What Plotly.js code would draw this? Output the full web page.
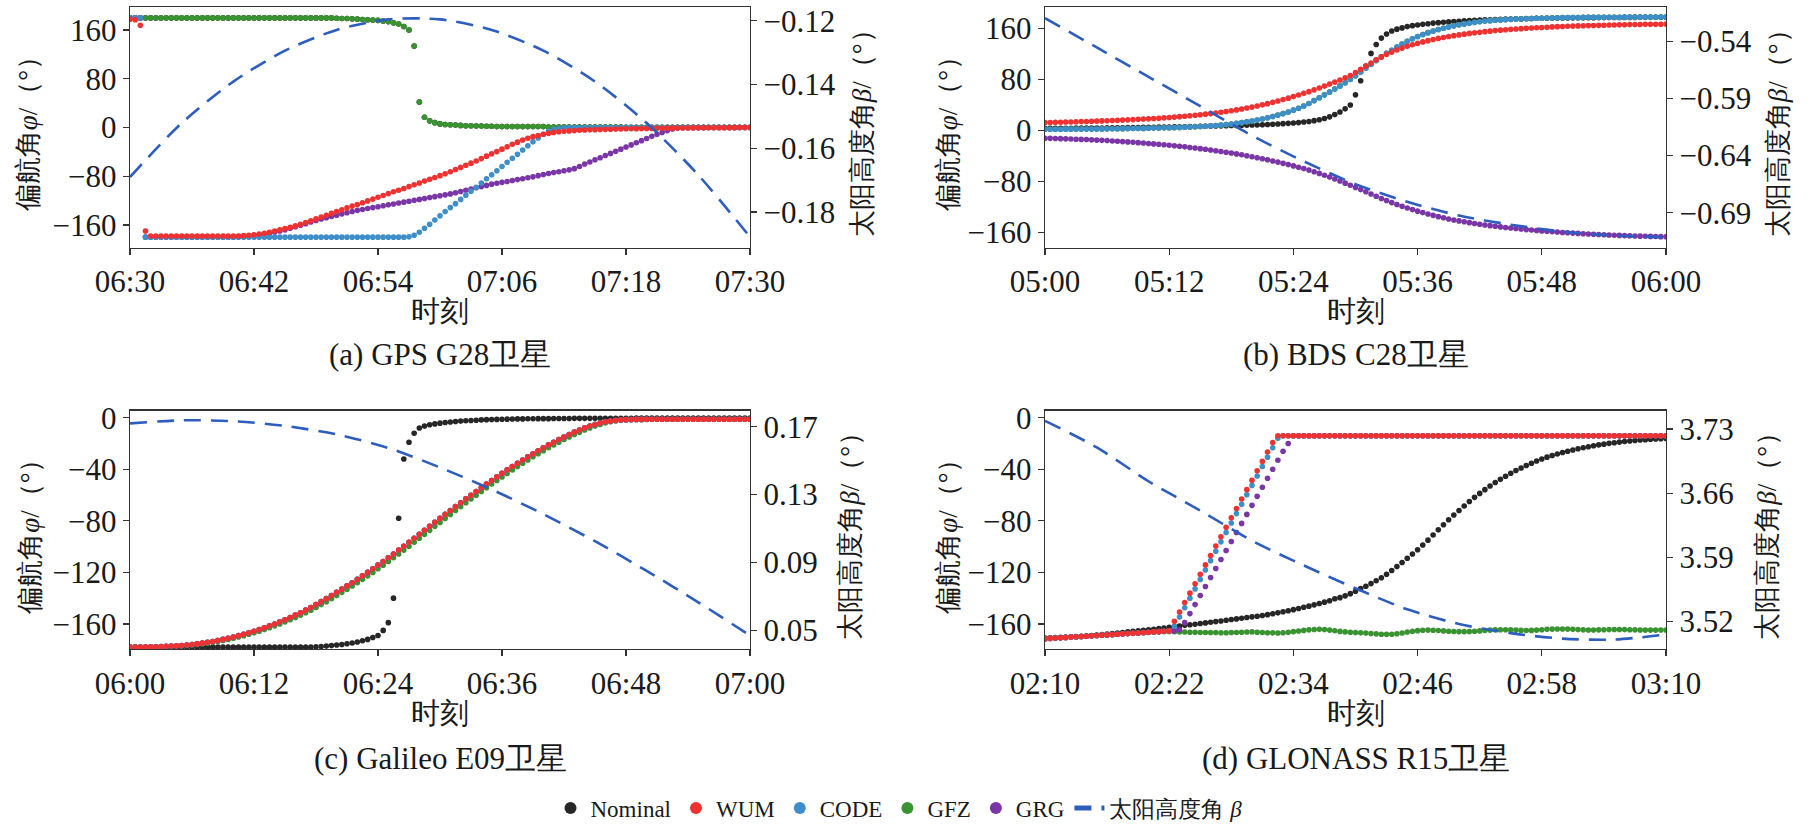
<!DOCTYPE html>
<html>
<head>
<meta charset="utf-8">
<script src="https://cdn.plot.ly/plotly-3.0.1.min.js"></script>
<style>
  html, body { margin: 0; padding: 0; background: #fff; }
  #chart { width: 1810px; height: 830px; }
</style>
</head>
<body>
<div id="chart"></div>
<script>

// sample times in minutes after each panel's start (one sample every 30 s)
let minutes = [];
for(let i = 0; i <= 120; i++) {
    minutes.push(i / 2);
}
let betaMinutes = [0, 5, 10, 15, 20, 25, 30, 35, 40, 45, 50, 55, 60];

let tickMinutes = [0, 12, 24, 36, 48, 60];
let ticksA = ["06:30", "06:42", "06:54", "07:06", "07:18", "07:30"];
let ticksB = ["05:00", "05:12", "05:24", "05:36", "05:48", "06:00"];
let ticksC = ["06:00", "06:12", "06:24", "06:36", "06:48", "07:00"];
let ticksD = ["02:10", "02:22", "02:34", "02:46", "02:58", "03:10"];

// ---------- (a) GPS G28 ----------
let gfzA = [
    180,180,180,180,180,180,180,180,180,180,
    180,180,180,180,180,180,180,180,180,180,
    180,180,180,180,180,180,180,180,180,180,
    180,180,180,180,180,180,180,180,180,180,
    179.5,179,179,178.5,178,177.5,177,176.5,176,175,
    174,172,170,166,160,134,42,17,11,8,
    6,5,4.5,4,3.5,3,3,2.5,2.5,2,
    2,1.5,1.5,1.5,1.5,1.5,1.5,1.5,1.5,1.5,
    1.5,1,1,1,1,1,1,1,1,1,
    1,1,1,1,1,1,0.5,0.5,0.5,0.5,
    0.5,0.5,0.5,0.5,0.5,0.5,0.5,0.5,0.5,0.5,
    0.5,0.5,0.5,0.5,0.5,0.5,0.5,0.5,0.5,0.5,
    0.5
];
let nominalA = gfzA; // nominal lies under the GFZ dots
let wumA = [
    178,177,168,-170,-178,-178,-178,-178,-178,-178,
    -178,-178,-178,-178,-178,-178,-178,-178,-178,-178,
    -178,-178,-177.5,-177,-176,-175,-173.5,-172,-170,-168,
    -166,-164,-161.5,-159,-156,-153,-150,-147,-144,-141,
    -138,-135,-132,-129,-126.5,-123.5,-120.5,-117.5,-114.5,-111.5,
    -108.5,-105.5,-103,-100,-97,-94,-91,-88,-85,-82,
    -79,-76,-72.5,-69,-65.5,-62,-58.5,-55,-51,-47,
    -43,-39.5,-35.5,-31.5,-27.5,-24,-20.5,-17.5,-15,-13,
    -11,-9.5,-8,-7,-6,-5.5,-5,-4.5,-4,-3.8,
    -3.5,-3.2,-3,-2.8,-2.5,-2.3,-2,-1.9,-1.8,-1.7,
    -1.5,-1.4,-1.3,-1.2,-1,-1,-0.9,-0.8,-0.7,-0.6,
    -0.5,-0.5,-0.4,-0.4,-0.3,-0.3,-0.2,-0.2,-0.1,-0.1,
    0
];
let codeA = [
    180,180,180,-180,-180,-180,-180,-180,-180,-180,
    -180,-180,-180,-180,-180,-180,-180,-180,-180,-180,
    -180,-180,-180,-180,-180,-180,-180,-180,-180,-180,
    -180,-180,-180,-180,-180,-180,-180,-180,-180,-180,
    -180,-180,-180,-180,-180,-180,-180,-180,-180,-180,
    -180,-180,-180,-180,-179.5,-177,-172,-165.5,-159,-152,
    -145,-138,-131.5,-125,-118,-111,-104.5,-98,-91,-84,
    -77.5,-71,-64,-57,-50.5,-44,-37,-30,-23.5,-17,
    -11,-6,-3,-1.5,-0.5,0,0,0,0,0,
    0,0,0,0,0,0,0,0,0,0,
    0,0,0,0,0,0,0,0,0,0,
    0,0,0,0,0,0,0,0,0,0,
    0
];
let grgA = [
    180,180,180,-180,-180,-180,-180,-180,-180,-180,
    -180,-180,-180,-180,-180,-180,-180,-180,-180,-180,
    -180,-179,-178.5,-178,-177,-176,-175,-173.5,-172,-170,
    -168,-165.5,-163,-160.5,-158,-155,-152.5,-150,-148,-146,
    -144,-142,-140,-138,-136,-134.5,-133,-131.5,-130,-128.5,
    -127,-125.5,-124,-122.5,-121,-119.5,-118,-116.5,-115,-113.5,
    -112,-110.5,-109,-107,-105,-103,-101,-99,-97,-95,
    -93,-91.5,-90,-88.5,-87,-85.5,-84,-82.5,-81,-79,
    -77,-75.5,-74,-72.5,-71,-69.5,-67.5,-64,-60,-56.5,
    -53,-49.5,-46,-42.5,-39,-35.5,-32,-28.5,-25,-21.5,
    -18,-14.5,-11,-8,-5,-2.5,-0.5,0,0,0,
    0,0,0,0,0,0,0,0,0,0,
    0
];
let betaA = [-0.1690, -0.1521, -0.1391, -0.1294, -0.1229, -0.1196, -0.1196, -0.1229, -0.1294, -0.1391, -0.1521, -0.1684, -0.1878];

// ---------- (b) BDS C28 ----------
let nominalB = [
    3.5,3.5,3.6,3.6,3.7,3.7,3.8,3.8,3.9,3.9,
    4,4.1,4.2,4.3,4.4,4.5,4.6,4.7,4.8,4.9,
    5,5.1,5.3,5.4,5.6,5.7,5.9,6,6.2,6.4,
    6.6,6.8,7,7.2,7.4,7.6,7.8,8,8.2,8.4,
    8.6,8.8,9.1,9.5,9.9,10.3,10.8,11.3,11.9,12.5,
    13.3,14.2,15.5,17,19,21.5,25,29,34,40,
    56,78,101,121,135,145,151.5,156,159,161,
    163,164.5,165.5,166.5,167.5,168.5,169.2,169.8,170.4,171,
    171.5,172,172.4,172.8,173.2,173.5,173.8,174.1,174.4,174.7,
    175,175.2,175.4,175.6,175.8,176,176.1,176.2,176.3,176.4,
    176.5,176.6,176.7,176.8,176.9,177,177,177.1,177.1,177.2,
    177.2,177.3,177.3,177.4,177.4,177.5,177.5,177.5,177.6,177.6,
    177.6
];
let codeB = [
    2,2,2.1,2.1,2.2,2.2,2.3,2.3,2.4,2.4,
    2.5,2.6,2.7,2.8,2.9,3,3.1,3.2,3.3,3.4,
    3.6,3.8,4,4.2,4.4,4.6,4.9,5.2,5.5,5.9,
    6.3,6.8,7.3,7.9,8.6,9.4,10.3,11.3,12.4,13.6,
    15,16.5,18.2,20,22,24.2,26.6,29.2,32,35,
    38.5,42.5,47,51.5,56,60.5,65,70,75,80,
    86,92,98,104,110,115.5,121,126,131,135.5,
    140,144,147.5,150.5,153.5,156,158.5,160.5,162.5,164.2,
    165.8,167.2,168.5,169.7,170.7,171.6,172.3,173,173.5,174,
    174.4,174.8,175.1,175.4,175.7,176,176.2,176.4,176.6,176.8,
    177,177.1,177.2,177.3,177.4,177.5,177.5,177.6,177.6,177.7,
    177.7,177.7,177.8,177.8,177.8,177.9,177.9,177.9,178,178,
    178
];
let gfzB = codeB; // GFZ hidden under CODE
let wumB = [
    12.5,12.7,12.9,13.1,13.3,13.5,13.8,14,14.3,14.5,
    14.8,15.1,15.4,15.7,16,16.4,16.8,17.2,17.6,18,
    18.4,18.9,19.4,19.9,20.5,21.1,21.8,22.5,23.2,24,
    24.8,25.7,26.6,27.6,28.7,29.9,31.1,32.4,33.8,35.3,
    36.8,38.5,40.3,42.2,44.2,46.3,48.5,50.8,53.2,55.7,
    58.3,61,63.8,66.7,69.7,72.8,76,79.3,82.7,86.2,
    91,96,101,106,111,115.5,119.5,123,126.3,129.3,
    132,134.5,136.8,139,141,142.8,144.5,146,147.5,148.8,
    150,151.2,152.3,153.3,154.2,155.1,155.9,156.7,157.4,158.1,
    158.7,159.3,159.8,160.3,160.8,161.3,161.7,162.1,162.5,162.9,
    163.2,163.5,163.8,164.1,164.4,164.6,164.8,165,165.2,165.4,
    165.6,165.8,165.9,166.1,166.2,166.4,166.5,166.6,166.7,166.8,
    166.9
];
let grgB = [
    -12,-12.2,-12.5,-12.7,-13,-13.3,-13.6,-13.9,-14.2,-14.6,
    -15,-15.4,-15.8,-16.3,-16.8,-17.3,-17.8,-18.4,-19,-19.6,
    -20.2,-20.9,-21.6,-22.3,-23.1,-23.9,-24.7,-25.6,-26.5,-27.4,
    -28.4,-29.4,-30.5,-31.6,-32.8,-34,-35.3,-36.6,-38,-39.5,
    -41,-42.6,-44.2,-45.9,-47.7,-49.5,-51.4,-53.4,-55.4,-57.5,
    -59.7,-62,-64.5,-67.2,-70,-73,-76,-79.2,-82.5,-85.8,
    -89.2,-92.6,-96,-99.5,-103,-106.5,-109.8,-113,-116,-118.8,
    -121.5,-124,-126.4,-128.7,-130.9,-133,-135,-136.9,-138.6,-140.2,
    -141.7,-143.1,-144.4,-145.7,-146.9,-148,-149.1,-150.1,-151.1,-152,
    -152.9,-153.7,-154.5,-155.3,-156,-156.7,-157.4,-158,-158.6,-159.2,
    -159.8,-160.3,-160.8,-161.3,-161.8,-162.2,-162.6,-163,-163.4,-163.8,
    -164.1,-164.4,-164.7,-165,-165.3,-165.6,-165.8,-166,-166.2,-166.4,
    -166.6
];
let betaB = [-0.5196, -0.5453, -0.5710, -0.5966, -0.6225, -0.6450, -0.6650, -0.6805, -0.6925, -0.7005, -0.7065, -0.7100, -0.7115];

// ---------- (c) Galileo E09 ----------
let nominalC = [
    -178,-178,-178,-178,-178,-178,-178,-178,-178,-178,
    -178,-178,-178,-178,-178,-178,-178,-178,-178,-178,
    -178,-178,-178,-178,-178,-178,-178,-178,-178,-178,
    -178,-178,-178,-178,-178,-178,-177.8,-177.5,-177.2,-176.8,
    -176.4,-176,-175.4,-174.8,-174,-173,-172,-170.5,-169,-165,
    -159,-140,-78,-32,-19,-12,-8,-6.5,-5.5,-4.8,
    -4.2,-3.7,-3.3,-2.9,-2.6,-2.3,-2.1,-1.9,-1.7,-1.5,
    -1.4,-1.3,-1.2,-1.1,-1,-0.9,-0.9,-0.8,-0.8,-0.7,
    -0.7,-0.7,-0.6,-0.6,-0.6,-0.6,-0.5,-0.5,-0.5,-0.5,
    -0.5,-0.5,-0.4,-0.4,-0.4,-0.4,-0.4,-0.4,-0.3,-0.3,
    -0.3,-0.3,-0.3,-0.3,-0.3,-0.3,-0.3,-0.3,-0.3,-0.3,
    -0.2,-0.2,-0.2,-0.2,-0.2,-0.2,-0.2,-0.2,-0.2,-0.2,
    -0.2
];
let wumC = [
    -178,-178,-178,-177.9,-177.8,-177.7,-177.6,-177.4,-177.2,-177,
    -176.7,-176.4,-176,-175.5,-174.9,-174.3,-173.6,-172.8,-172,-171.1,
    -170.1,-169.1,-168,-166.9,-165.7,-164.4,-163,-161.5,-160,-158.4,
    -156.7,-155,-153.2,-151.3,-149.3,-147.2,-145,-142.7,-140.4,-138,
    -135.5,-133,-130.5,-128,-125.4,-122.7,-120,-117.2,-114.4,-111.5,
    -108.6,-105.7,-102.7,-99.7,-96.7,-93.6,-90.5,-87.4,-84.3,-81.2,
    -78.1,-75,-72,-69,-66,-63,-60.1,-57.2,-54.3,-51.5,
    -48.7,-45.9,-43.2,-40.5,-37.9,-35.3,-32.8,-30.3,-27.9,-25.6,
    -23.3,-21.1,-19,-16.9,-14.9,-13,-11.2,-9.5,-7.9,-6.5,
    -5.2,-4.1,-3.2,-2.5,-2,-1.7,-1.5,-1.4,-1.3,-1.3,
    -1.2,-1.2,-1.2,-1.2,-1.2,-1.2,-1.2,-1.2,-1.2,-1.2,
    -1.2,-1.2,-1.2,-1.2,-1.2,-1.2,-1.2,-1.2,-1.2,-1.2,
    -1.2
];
let codeC = wumC; // CODE and GRG hidden under WUM
let grgC = wumC;
let gfzC = [
    -178,-178,-178,-178,-177.9,-177.8,-177.7,-177.6,-177.4,-177.2,
    -177,-176.7,-176.4,-176,-175.5,-174.9,-174.3,-173.6,-172.8,-172,
    -171.1,-170.1,-169.1,-168,-166.9,-165.7,-164.4,-163,-161.5,-160,
    -158.4,-156.7,-155,-153.2,-151.3,-149.3,-147.2,-145,-142.7,-140.4,
    -138,-135.5,-133,-130.5,-128,-125.4,-122.7,-120,-117.2,-114.4,
    -111.5,-108.6,-105.7,-102.7,-99.7,-96.7,-93.6,-90.5,-87.4,-84.3,
    -81.2,-78.1,-75,-72,-69,-66,-63,-60.1,-57.2,-54.3,
    -51.5,-48.7,-45.9,-43.2,-40.5,-37.9,-35.3,-32.8,-30.3,-27.9,
    -25.6,-23.3,-21.1,-19,-16.9,-14.9,-13,-11.2,-9.5,-7.9,
    -6.5,-5.2,-4.1,-3.2,-2.5,-2,-1.7,-1.5,-1.4,-1.3,
    -1.3,-1.2,-1.2,-1.2,-1.2,-1.2,-1.2,-1.2,-1.2,-1.2,
    -1.2,-1.2,-1.2,-1.2,-1.2,-1.2,-1.2,-1.2,-1.2,-1.2,
    -1.2
];
let betaC = [0.1720, 0.1738, 0.1733, 0.1705, 0.1655, 0.1575, 0.1460, 0.1330, 0.1185, 0.1025, 0.0850, 0.0665, 0.0469];

// ---------- (d) GLONASS R15 ----------
let nominalD = [
    -171,-170.8,-170.5,-170.3,-170.1,-169.9,-169.7,-169.5,-169.3,-169,
    -168.6,-168.2,-167.8,-167.4,-167,-166.6,-166.2,-165.8,-165.4,-165,
    -164.6,-164.1,-163.6,-163.1,-162.6,-162.1,-161.6,-161.1,-160.6,-160.2,
    -159.7,-159.2,-158.7,-158.2,-157.7,-157.2,-156.6,-156.1,-155.6,-155,
    -154.5,-154,-153.4,-152.8,-152.1,-151.4,-150.6,-149.8,-148.9,-148,
    -147.1,-146.2,-145.2,-144.2,-143.1,-142,-140.5,-139.6,-138.2,-136.5,
    -134.6,-132.6,-130.8,-128.7,-126.5,-124.2,-121.5,-118.5,-115.5,-112.3,
    -109,-105.7,-102.4,-98.7,-95,-91,-87,-83,-79.2,-75.5,
    -72,-68.5,-65,-61.8,-58.7,-55.8,-53,-50.3,-47.8,-45.4,
    -43.1,-41,-39,-37.1,-35.3,-33.6,-32,-30.6,-29.3,-28.1,
    -27,-26,-25,-24.1,-23.3,-22.5,-21.8,-21.1,-20.5,-19.9,
    -19.4,-18.9,-18.4,-18,-17.6,-17.3,-17,-16.7,-16.5,-16.3,
    -16.1
];
let wumD = [
    -171.5,-171.2,-171,-170.7,-170.5,-170.2,-170,-169.7,-169.5,-169.2,
    -169,-168.7,-168.5,-168.2,-168,-167.7,-167.5,-167.2,-167,-166.7,
    -166.5,-166.2,-166,-165.7,-165.4,-158,-150.7,-143.4,-136.1,-128.8,
    -121.5,-114.2,-106.9,-99.6,-92.3,-85,-77.7,-70.4,-63.1,-55.8,
    -48.5,-41.2,-33.9,-26.6,-19.3,-14,-14,-14,-14,-14,
    -14,-14,-14,-14,-14,-14,-14,-14,-14,-14,
    -14,-14,-14,-14,-14,-14,-14,-14,-14,-14,
    -14,-14,-14,-14,-14,-14,-14,-14,-14,-14,
    -14,-14,-14,-14,-14,-14,-14,-14,-14,-14,
    -14,-14,-14,-14,-14,-14,-14,-14,-14,-14,
    -14,-14,-14,-14,-14,-14,-14,-14,-14,-14,
    -14,-14,-14,-14,-14,-14,-14,-14,-14,-14,
    -14
];
let codeD = [
    -171.5,-171.2,-171,-170.7,-170.5,-170.2,-170,-169.7,-169.5,-169.2,
    -169,-168.7,-168.5,-168.2,-168,-167.7,-167.5,-167.2,-167,-166.7,
    -166.5,-166.2,-166,-165.7,-165.4,-162,-154.7,-147.4,-140.1,-132.8,
    -125.5,-118.2,-110.9,-103.6,-96.3,-89,-81.7,-74.4,-67.1,-59.8,
    -52.5,-45.2,-37.9,-30.6,-23.3,-16,-14,-14,-14,-14,
    -14,-14,-14,-14,-14,-14,-14,-14,-14,-14,
    -14,-14,-14,-14,-14,-14,-14,-14,-14,-14,
    -14,-14,-14,-14,-14,-14,-14,-14,-14,-14,
    -14,-14,-14,-14,-14,-14,-14,-14,-14,-14,
    -14,-14,-14,-14,-14,-14,-14,-14,-14,-14,
    -14,-14,-14,-14,-14,-14,-14,-14,-14,-14,
    -14,-14,-14,-14,-14,-14,-14,-14,-14,-14,
    -14
];
let grgD = [
    -171.5,-171.2,-171,-170.7,-170.5,-170.2,-170,-169.7,-169.5,-169.2,
    -169,-168.7,-168.5,-168.2,-168,-167.7,-167.5,-167.2,-167,-166.7,
    -166.5,-166.2,-166,-165.7,-165.4,-165.5,-164.5,-159,-152,-145,
    -138,-131,-124,-117,-110,-103,-96,-89,-82,-75,
    -68,-61,-54,-47,-40,-33,-26,-20,-14,-14,
    -14,-14,-14,-14,-14,-14,-14,-14,-14,-14,
    -14,-14,-14,-14,-14,-14,-14,-14,-14,-14,
    -14,-14,-14,-14,-14,-14,-14,-14,-14,-14,
    -14,-14,-14,-14,-14,-14,-14,-14,-14,-14,
    -14,-14,-14,-14,-14,-14,-14,-14,-14,-14,
    -14,-14,-14,-14,-14,-14,-14,-14,-14,-14,
    -14,-14,-14,-14,-14,-14,-14,-14,-14,-14,
    -14
];
let gfzD = [
    -171.5,-171.3,-171,-170.8,-170.5,-170.3,-170,-169.8,-169.5,-169.3,
    -169,-168.8,-168.5,-168.3,-168,-167.8,-167.5,-167.3,-167,-166.8,
    -166.6,-166.4,-166.2,-166,-165.8,-166,-166.2,-166.3,-166.4,-166.5,
    -166.6,-166.6,-166.7,-166.7,-166.8,-166.8,-166.7,-166.6,-166.5,-166.3,
    -166.2,-166.4,-166.6,-166.8,-166.9,-167,-166.8,-166.5,-166,-165.5,
    -165,-164.6,-164.3,-164.2,-164.4,-164.8,-165.3,-165.8,-166.2,-166.5,
    -166.7,-166.9,-167.1,-167.4,-167.7,-168,-168.1,-168,-167.6,-167,
    -166.3,-165.7,-165.2,-164.9,-164.8,-164.9,-165.1,-165.4,-165.7,-165.9,
    -166,-166,-165.9,-165.7,-165.4,-165.1,-164.8,-164.6,-164.5,-164.5,
    -164.6,-164.8,-165,-165.1,-165,-164.8,-164.5,-164.2,-164,-163.9,
    -163.9,-164,-164.2,-164.4,-164.6,-164.7,-164.7,-164.6,-164.5,-164.4,
    -164.3,-164.3,-164.4,-164.5,-164.6,-164.7,-164.8,-164.8,-164.8,-164.7,
    -164.7
];
let betaD = [3.739, 3.710, 3.673, 3.641, 3.608, 3.581, 3.556, 3.533, 3.517, 3.507, 3.501, 3.500, 3.5055];

// ---------- styling ----------
let colors = {
    Nominal: '#262626',
    WUM: '#ee3131',
    CODE: '#3d8ec9',
    GFZ: '#3a9331',
    GRG: '#7a35a6',
    beta: '#2c5dbf'
};
let legendRank = {Nominal: 1, WUM: 2, CODE: 3, GFZ: 4, GRG: 5};
let serif = 'Liberation Serif';
let W = 1810, H = 830;

function px(x) { return x / W; }
function py(y) { return 1 - y / H; }

function dots(name, values, xa, ya, first) {
    return {
        x: minutes,
        y: values,
        xaxis: xa,
        yaxis: ya,
        type: 'scatter',
        mode: 'markers',
        name: name,
        legendrank: legendRank[name],
        showlegend: first,
        marker: {size: 5.6, color: colors[name], line: {width: 0}},
        hoverinfo: 'skip'
    };
}

function betaLine(values, xa, ya, first) {
    return {
        x: betaMinutes,
        y: values,
        xaxis: xa,
        yaxis: ya,
        type: 'scatter',
        mode: 'lines',
        name: '太阳高度角 <i>β</i>',
        legendrank: 6,
        showlegend: first,
        line: {color: colors.beta, width: 2.6, dash: '17px,10px', shape: 'spline', smoothing: 0.8},
        hoverinfo: 'skip'
    };
}

function panelTraces(p, xa, ya, yb, first) {
    return [
        dots('Nominal', p.nominal, xa, ya, first),
        dots('GFZ', p.gfz, xa, ya, first),
        dots('GRG', p.grg, xa, ya, first),
        dots('CODE', p.code, xa, ya, first),
        dots('WUM', p.wum, xa, ya, first),
        betaLine(p.beta, xa, yb, first)
    ];
}

let traces = [].concat(
    panelTraces({nominal: nominalA, gfz: gfzA, grg: grgA, code: codeA, wum: wumA, beta: betaA}, 'x', 'y', 'y2', true),
    panelTraces({nominal: nominalB, gfz: gfzB, grg: grgB, code: codeB, wum: wumB, beta: betaB}, 'x2', 'y3', 'y4', false),
    panelTraces({nominal: nominalC, gfz: gfzC, grg: grgC, code: codeC, wum: wumC, beta: betaC}, 'x3', 'y5', 'y6', false),
    panelTraces({nominal: nominalD, gfz: gfzD, grg: grgD, code: codeD, wum: wumD, beta: betaD}, 'x4', 'y7', 'y8', false)
);

function axisBase() {
    return {
        showgrid: false,
        zeroline: false,
        showline: true,
        linecolor: '#333',
        linewidth: 1.4,
        ticks: 'outside',
        ticklen: 6,
        tickwidth: 1.2,
        tickcolor: '#333',
        tickfont: {family: 'Liberation Serif', size: 31}
    };
}

function xAxis(domain, ticktext, anchor) {
    return Object.assign(axisBase(), {
        domain: domain, anchor: anchor, range: [0, 60], mirror: true,
        tickmode: 'array', tickvals: tickMinutes, ticktext: ticktext
    });
}
function yLeft(domain, range, tickvals, anchor) {
    return Object.assign(axisBase(), {
        domain: domain, anchor: anchor, range: range, mirror: true,
        tickmode: 'array', tickvals: tickvals
    });
}
function yRight(overlay, range, tickvals, anchor) {
    return Object.assign(axisBase(), {
        overlaying: overlay, side: 'right', anchor: anchor, range: range,
        tickmode: 'array', tickvals: tickvals, tickformat: '.2f'
    });
}

let colL = [px(130), px(750)];
let colR = [px(1045), px(1666)];
let rowT = [py(249), py(7)];
let rowB = [py(653), py(413)];

let titleFont = {family: serif, size: 27, color: '#1a1a1a'};
let capFont = {family: serif, size: 31, color: '#1a1a1a'};
let xtFont = {family: serif, size: 29, color: '#1a1a1a'};

function note(text, x, y, font, angle) {
    return {
        text: text, xref: 'paper', yref: 'paper', x: px(x), y: py(y),
        xanchor: 'center', yanchor: 'middle', showarrow: false,
        font: font, textangle: angle || 0
    };
}

let yTitle = '偏航角<i>φ</i>/（°）';
let bTitle = '太阳高度角<i>β</i>/（°）';

let annotations = [
    note(yTitle, 28, 128, titleFont, -90),
    note(yTitle, 948, 128, titleFont, -90),
    note(yTitle, 30, 533, titleFont, -90),
    note(yTitle, 948, 533, titleFont, -90),
    note(bTitle, 862, 128, titleFont, -90),
    note(bTitle, 1778, 128, titleFont, -90),
    note(bTitle, 850, 533, titleFont, -90),
    note(bTitle, 1767, 533, titleFont, -90),
    note('时刻', 440, 313, xtFont),
    note('时刻', 1356, 313, xtFont),
    note('时刻', 440, 717, xtFont),
    note('时刻', 1356, 717, xtFont),
    note('(a) GPS G28卫星', 440, 357, capFont),
    note('(b) BDS C28卫星', 1356, 357, capFont),
    note('(c) Galileo E09卫星', 440, 763, capFont),
    note('(d) GLONASS R15卫星', 1356, 763, capFont)
];

let layout = {
    width: W,
    height: H,
    margin: {l: 0, r: 0, t: 0, b: 0, pad: 0},
    paper_bgcolor: '#fff',
    plot_bgcolor: '#fff',
    font: {color: '#1a1a1a'},
    showlegend: true,
    legend: {
        orientation: 'h',
        x: px(899), xanchor: 'center',
        y: py(813), yanchor: 'middle',
        font: {family: serif, size: 23, color: '#1a1a1a'},
        itemsizing: 'constant',
        bgcolor: 'rgba(0,0,0,0)'
    },
    xaxis: xAxis(colL, ticksA, 'y'),
    yaxis: yLeft(rowT, [-197, 198], [-160, -80, 0, 80, 160], 'x'),
    yaxis2: yRight('y', [-0.1911, -0.1157], [-0.18, -0.16, -0.14, -0.12], 'x'),
    xaxis2: xAxis(colR, ticksB, 'y3'),
    yaxis3: yLeft(rowT, [-183.4, 193.8], [-160, -80, 0, 80, 160], 'x2'),
    yaxis4: yRight('y3', [-0.7205, -0.5098], [-0.69, -0.64, -0.59, -0.54], 'x2'),
    xaxis3: xAxis(colL, ticksC, 'y5'),
    yaxis5: yLeft(rowB, [-179.5, 5.6], [-160, -120, -80, -40, 0], 'x3'),
    yaxis6: yRight('y5', [0.0389, 0.1796], [0.05, 0.09, 0.13, 0.17], 'x3'),
    xaxis4: xAxis(colR, ticksD, 'y7'),
    yaxis7: yLeft(rowB, [-179.5, 5.6], [-160, -120, -80, -40, 0], 'x4'),
    yaxis8: yRight('y7', [3.4896, 3.7503], [3.52, 3.59, 3.66, 3.73], 'x4'),
    annotations: annotations
};

Plotly.newPlot('chart', traces, layout, {displayModeBar: false, staticPlot: true});

</script>
</body>
</html>
